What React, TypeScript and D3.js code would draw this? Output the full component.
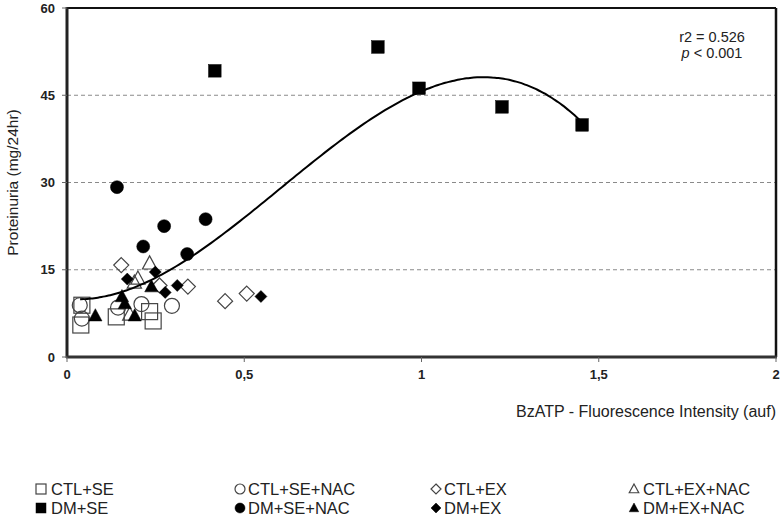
import React from "react";
import * as d3 from "d3";

const W = 782, H = 517;
const yTicks = [0, 15, 30, 45, 60];
const gridValues = [15, 30, 45];
const xTicks = [0, 0.5, 1, 1.5, 2];
const xTickLabels = ["0", "0,5", "1", "1,5", "2"];

const ctlSE: [number, number][] = [[0.042, 8.9], [0.039, 5.5], [0.139, 6.9], [0.233, 7.8], [0.243, 6.2]];
const ctlSENAC: [number, number][] = [[0.036, 8.9], [0.042, 6.6], [0.144, 8.5], [0.21, 9.1], [0.296, 8.8]];
const ctlEX: [number, number][] = [[0.153, 15.8], [0.261, 12.3], [0.341, 12.1], [0.446, 9.6], [0.507, 10.9]];
const ctlEXNAC: [number, number][] = [[0.233, 16.1], [0.2, 13.5], [0.19, 12.8], [0.177, 7.3]];
const dmSE: [number, number][] = [[0.417, 49.2], [0.877, 53.3], [0.993, 46.2], [1.227, 43.0], [1.453, 39.9]];
const dmSENAC: [number, number][] = [[0.141, 29.2], [0.274, 22.5], [0.391, 23.7], [0.215, 19.0], [0.339, 17.7]];
const dmEX: [number, number][] = [[0.249, 14.6], [0.17, 13.4], [0.311, 12.3], [0.277, 11.1], [0.547, 10.4]];
const dmEXNAC: [number, number][] = [[0.238, 12.1], [0.155, 10.4], [0.163, 9.2], [0.08, 7.1], [0.191, 7.1]];

// cubic trend y = c0 + c1 x + c2 x^2 + c3 x^3
const trendCoefficients = [9.995, -5.216, 91.56, -50.65];
const trendRange = [0.037, 1.453];

const legendLabels = ["CTL+SE", "CTL+SE+NAC", "CTL+EX", "CTL+EX+NAC", "DM+SE", "DM+SE+NAC", "DM+EX", "DM+EX+NAC"];

type Shape = "square" | "circle" | "diamond" | "triangle";
const groups: { data: [number, number][]; shape: Shape; filled: boolean; size: number }[] = [
  { data: ctlEX, shape: "diamond", filled: false, size: 7.5 },
  { data: ctlEXNAC, shape: "triangle", filled: false, size: 7.5 },
  { data: ctlSENAC, shape: "circle", filled: false, size: 7.5 },
  { data: ctlSE, shape: "square", filled: false, size: 8 },
  { data: dmSE, shape: "square", filled: true, size: 6.3 },
  { data: dmSENAC, shape: "circle", filled: true, size: 6.5 },
  { data: dmEX, shape: "diamond", filled: true, size: 6 },
  { data: dmEXNAC, shape: "triangle", filled: true, size: 7 },
];
const legendShapes: { shape: Shape; filled: boolean }[] = [
  { shape: "square", filled: false }, { shape: "circle", filled: false },
  { shape: "diamond", filled: false }, { shape: "triangle", filled: false },
  { shape: "square", filled: true }, { shape: "circle", filled: true },
  { shape: "diamond", filled: true }, { shape: "triangle", filled: true },
];

function Marker({ x, y, shape, filled, r }: { x: number; y: number; shape: Shape; filled: boolean; r: number }) {
  const fill = filled ? "#000" : "none";
  const stroke = filled ? "#000" : "#444";
  const sw = filled ? 0.5 : 1.2;
  if (shape === "square") return <rect x={x - r} y={y - r} width={2 * r} height={2 * r} fill={fill} stroke={stroke} strokeWidth={sw} />;
  if (shape === "circle") return <circle cx={x} cy={y} r={r} fill={fill} stroke={stroke} strokeWidth={sw} />;
  if (shape === "diamond") return <path d={`M${x},${y - r}L${x + r},${y}L${x},${y + r}L${x - r},${y}Z`} fill={fill} stroke={stroke} strokeWidth={sw} />;
  return <path d={`M${x},${y - r}L${x + r * 0.95},${y + r * 0.75}L${x - r * 0.95},${y + r * 0.75}Z`} fill={fill} stroke={stroke} strokeWidth={sw} />;
}

export default function App() {
  const left = 67, right = 776, top = 8, bottom = 357;
  const x = d3.scaleLinear().domain([0, 2]).range([left, right]);
  const y = d3.scaleLinear().domain([0, 60]).range([bottom, top]);
  const f = (v: number) => trendCoefficients.reduce((s, c, i) => s + c * Math.pow(v, i), 0);
  const xs = d3.range(trendRange[0], trendRange[1] + 1e-9, 0.01);
  const line = d3.line<number>().x((v) => x(v)).y((v) => y(f(v))).curve(d3.curveBasis);
  const font = "'Liberation Sans', Arial, sans-serif";
  const legMarkX = [41, 240, 436, 634];
  const legTextX = [51, 248, 444, 643];
  const legY = [495, 514];

  return (
    <svg width={W} height={H} style={{ position: "absolute", left: 0, top: 0, background: "#fff" }} fontFamily={font}>
      <rect width={W} height={H} fill="#fff" />
      {gridValues.map((g) => (
        <line key={g} x1={left} x2={right} y1={y(g)} y2={y(g)} stroke="#8a8a8a" strokeWidth={1} strokeDasharray="4,3" />
      ))}
      {/* frame */}
      <line x1={left} x2={right} y1={top} y2={top} stroke="#111" strokeWidth={2} />
      <line x1={right} x2={right} y1={top} y2={bottom} stroke="#111" strokeWidth={2.5} />
      <line x1={left} x2={left} y1={top - 1} y2={bottom + 1} stroke="#222" strokeWidth={3} />
      <line x1={left - 1} x2={right + 1} y1={bottom} y2={bottom} stroke="#333" strokeWidth={3} />
      {yTicks.map((t) => (
        <g key={t}>
          <line x1={left - 5} x2={left} y1={y(t)} y2={y(t)} stroke="#666" strokeWidth={1} />
          <text x={left - 12} y={y(t)} dy="0.35em" textAnchor="end" fontSize={13} fontWeight="bold" fill="#222">{t}</text>
        </g>
      ))}
      {xTicks.map((t, i) => (
        <g key={t}>
          <line x1={x(t)} x2={x(t)} y1={bottom} y2={bottom + 5} stroke="#666" strokeWidth={1} />
          <text x={x(t)} y={bottom + 22} textAnchor="middle" fontSize={13} fontWeight="bold" fill="#222">{xTickLabels[i]}</text>
        </g>
      ))}
      <text x={right} y={417} textAnchor="end" fontSize={16} fill="#222">BzATP - Fluorescence Intensity (auf)</text>
      <text transform={`translate(18,${(top + bottom) / 2}) rotate(-90)`} textAnchor="middle" fontSize={15.5} fill="#222">Proteinuria (mg/24hr)</text>
      <text x={712} y={42} textAnchor="middle" fontSize={14.5} fill="#222">r2 = 0.526</text>
      <text x={712} y={58} textAnchor="middle" fontSize={14.5} fill="#222"><tspan fontStyle="italic">p</tspan> &lt; 0.001</text>
      {groups.map((g, gi) => (
        <g key={gi}>
          {g.data.map((d, i) => (
            <Marker key={i} x={x(d[0])} y={y(d[1])} shape={g.shape} filled={g.filled} r={g.size} />
          ))}
        </g>
      ))}
      <path d={line(xs) || ""} fill="none" stroke="#000" strokeWidth={2} />
      {legendLabels.map((lab, i) => {
        const col = i % 4, row = Math.floor(i / 4);
        const s = legendShapes[i];
        return (
          <g key={lab}>
            <Marker x={legMarkX[col]} y={legY[row] - 6} shape={s.shape} filled={s.filled} r={5} />
            <text x={legTextX[col]} y={legY[row]} fontSize={16.5} fill="#222">{lab}</text>
          </g>
        );
      })}
    </svg>
  );
}
